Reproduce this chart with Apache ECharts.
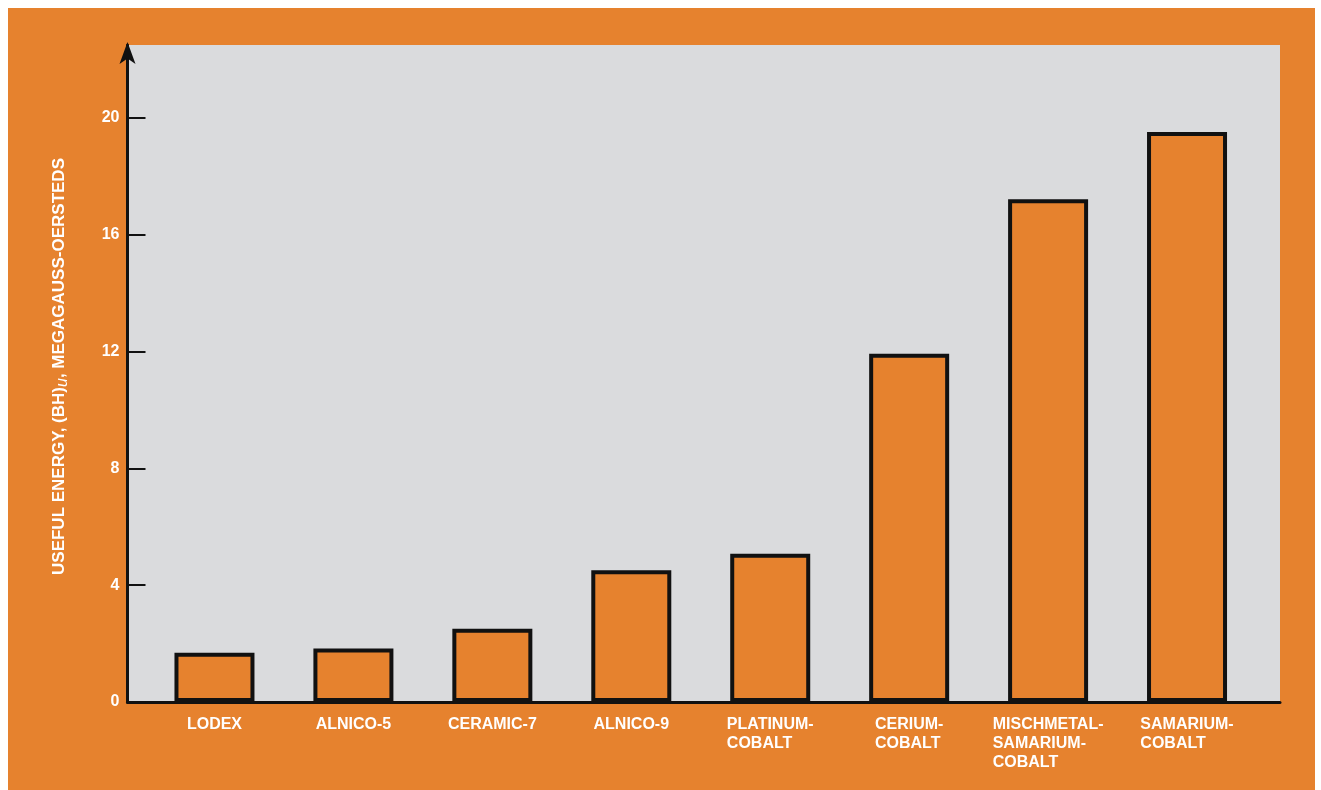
<!DOCTYPE html>
<html>
<head>
<meta charset="utf-8">
<script src="https://cdn.jsdelivr.net/npm/echarts@6/dist/echarts.min.js"></script>
<style>
  html, body { margin: 0; padding: 0; background: #ffffff; width: 1321px; height: 790px; overflow: hidden; }
  #chart { position: absolute; left: 8px; top: 8px; width: 1307px; height: 782px; }
</style>
</head>
<body>
<div id="chart"></div>
<script>
// ---- data ----
const categories = ["LODEX", "ALNICO-5", "CERAMIC-7", "ALNICO-9", "PLATINUM-\nCOBALT", "CERIUM-\nCOBALT", "MISCHMETAL-\nSAMARIUM-\nCOBALT", "SAMARIUM-\nCOBALT"];
const energyValues = [1.69, 1.83, 2.51, 4.51, 5.08, 11.93, 17.22, 19.52];
const yTicks = [0, 4, 8, 12, 16, 20];
const yMax = 22.5;

// ---- style ----
const ORANGE = '#E6822E';
const GRAY = '#DADBDD';
const INK = '#111111';
const FONT = '"Liberation Sans", Arial, sans-serif';

const chart = echarts.init(document.getElementById('chart'), null, { renderer: 'canvas' });

const option = {
  backgroundColor: ORANGE,
  animation: false,
  grid: [
    { left: 119.5, right: 35, top: 37, bottom: 88, show: true, backgroundColor: GRAY, borderWidth: 0 },
    { left: 137, right: 58.5, top: 37, bottom: 88 }
  ],
  xAxis: [
    {
      gridIndex: 0, type: 'value', min: 0, max: 1,
      axisLine: { show: true, lineStyle: { color: INK, width: 3 } },
      axisTick: { show: false }, axisLabel: { show: false }, splitLine: { show: false }
    },
    {
      gridIndex: 1, type: 'category', data: categories,
      axisLine: { show: false }, axisTick: { show: false }, splitLine: { show: false },
      axisLabel: {
        interval: 0, margin: 13,
        formatter: function (v) { return v.split('\n').map(s => '{a|' + s + '}').join('\n'); },
        rich: {
          a: { color: '#ffffff', fontFamily: FONT, fontWeight: 'bold', fontSize: 16, lineHeight: 19, align: 'left' }
        }
      }
    }
  ],
  yAxis: [
    {
      gridIndex: 0, type: 'value', min: 0, max: yMax,
      name: '{n|USEFUL ENERGY, (BH)}{s|u}{n|, MEGAGAUSS-OERSTEDS}',
      nameLocation: 'middle', nameGap: 60,
      nameTextStyle: {
        padding: [0, 0, 0, 14],
        rich: {
          n: { color: '#ffffff', fontFamily: FONT, fontWeight: 'bold', fontSize: 17, lineHeight: 20, verticalAlign: 'bottom' },
          s: { color: '#ffffff', fontFamily: FONT, fontStyle: 'italic', fontSize: 16, lineHeight: 20, verticalAlign: 'bottom', padding: [0, 0, -3, 0] }
        }
      },
      axisLine: {
        show: true, lineStyle: { color: INK, width: 3 },
        symbol: ['none', 'arrow'], symbolSize: [12, 22], symbolOffset: [0, 3]
      },
      axisTick: { show: true, inside: true, length: 18, lineStyle: { color: INK, width: 2 }, customValues: yTicks },
      axisLabel: {
        customValues: yTicks, margin: 8,
        color: '#ffffff', fontFamily: FONT, fontWeight: 'bold', fontSize: 16
      },
      splitLine: { show: false }
    },
    {
      gridIndex: 1, type: 'value', min: 0, max: yMax, show: false
    }
  ],
  series: [
    {
      type: 'bar', xAxisIndex: 1, yAxisIndex: 1,
      data: energyValues,
      barWidth: 80,
      itemStyle: { color: ORANGE, borderColor: INK, borderWidth: 4 },
      z: 3
    }
  ]
};

chart.setOption(option);
</script>
</body>
</html>
